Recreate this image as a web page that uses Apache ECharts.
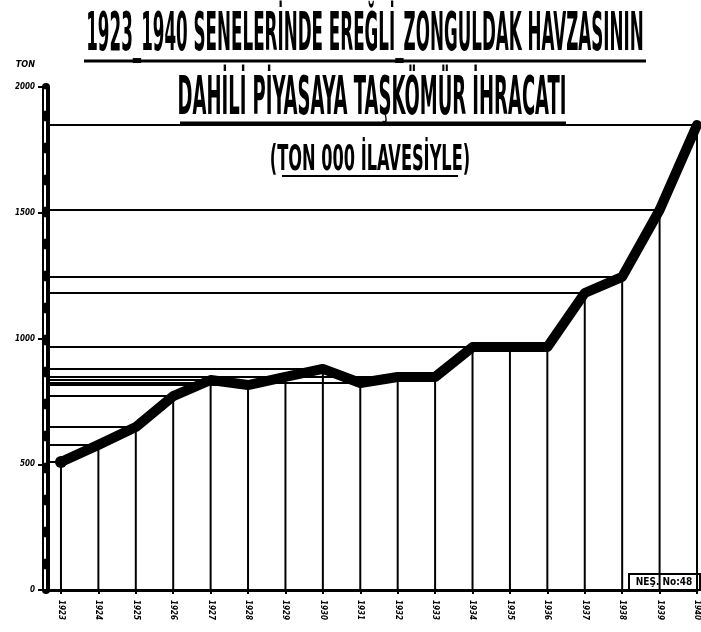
<!DOCTYPE html>
<html>
<head>
<meta charset="utf-8">
<script src="https://cdn.jsdelivr.net/npm/echarts@6/dist/echarts.min.js"></script>
<style>
html,body{margin:0;padding:0;background:#fff;}
#chart{width:701px;height:632px;}
</style>
</head>
<body>
<div id="chart"></div>
<script>
// ---- data (thousand tons) ----
const years = [1923,1924,1925,1926,1927,1928,1929,1930,1931,1932,1933,1934,1935,1936,1937,1938,1939,1940];
const values = [509,577,648,771,835,815,847,879,823,847,847,966,966,966,1181,1245,1511,1849];
const yTickValues = [0,500,1000,1500,2000];
const titleLines = [
  "1923_1940 SENELERİNDE EREĞLİ_ZONGULDAK HAVZASININ",
  "DAHİLİ PİYASAYA TAŞKÖMÜR İHRACATI",
  "(TON 000 İLAVESİYLE)"
];
const unitName = "TON";
const noteText = "NEŞ. No:48";

const FONT = '"Liberation Sans Narrow","DejaVu Sans Condensed","Liberation Sans",sans-serif';
const points = years.map((y,i)=>[y, values[i]]);

const chart = echarts.init(document.getElementById('chart'), null, {renderer:'canvas'});

function titleText(txt, cx, top, size, sx, sy) {
  return {
    type:'text', x:cx, y:top, scaleX:sx, scaleY:sy, z:10,
    style:{text:txt, x:0, y:0, textAlign:'center', textVerticalAlign:'top',
      font:'bold '+size+'px '+FONT, fill:'#000'}
  };
}

chart.setOption({
  backgroundColor:'#fff',
  animation:false,
  grid:{left:46, right:3, top:87, bottom:42},
  xAxis:{
    type:'value', min:1922.6, max:1940,
    axisLine:{show:true, onZero:false, lineStyle:{color:'#000', width:3}},
    axisTick:{show:true, customValues:years, length:4, lineStyle:{color:'#000', width:2}},
    axisLabel:{customValues:years, rotate:-90, margin:10, fontSize:8, fontWeight:'bold', fontStyle:'italic',
      fontFamily:FONT, color:'#000', formatter:v=>String(v)},
    splitLine:{show:false}
  },
  yAxis:[{
    type:'value', min:0, max:2000, interval:500, position:'left',
    name:unitName, nameLocation:'end', nameGap:18,
    nameTextStyle:{align:'right', padding:[0,11,0,0], fontSize:9, fontWeight:'bold', fontStyle:'italic', fontFamily:FONT, color:'#000'},
    axisLine:{show:true, lineStyle:{color:'#000', width:8}},
    axisTick:{show:true, length:8, lineStyle:{color:'#000', width:2}},
    axisLabel:{margin:11, fontSize:8, fontWeight:'bold', fontStyle:'italic', fontFamily:FONT, color:'#000',
      padding:[0,0,6,0], formatter:v=>String(v)},
    splitLine:{show:false}
  },{
    type:'value', min:0, max:2000, interval:500, position:'left', offset:1,
    axisLine:{show:true, lineStyle:{color:'#fff', width:2, type:[20,12]}},
    axisTick:{show:false}, axisLabel:{show:false}, splitLine:{show:false}
  }],
  series:[
    {
      type:'custom', name:'drop', data:points, z:2,
      renderItem:function(params, api){
        const p = api.coord([api.value(0), api.value(1)]);
        const b = api.coord([api.value(0), 0]);
        return {type:'line', shape:{x1:p[0], y1:p[1], x2:b[0], y2:b[1]},
          style:{stroke:'#000', lineWidth:2}};
      }
    },
    {
      type:'custom', name:'level', data:points, z:2,
      renderItem:function(params, api){
        const p = api.coord([api.value(0), api.value(1)]);
        const left = params.coordSys.x;
        return {type:'line', shape:{x1:left, y1:p[1], x2:p[0], y2:p[1]},
          style:{stroke:'#000', lineWidth:2}};
      }
    },
    {
      type:'line', name:'ihracat', data:points, z:5,
      symbol:'circle',
      symbolSize:function(v, params){ return params.dataIndex === 0 ? 12 : 0; },
      itemStyle:{color:'#000'},
      lineStyle:{color:'#000', width:10, cap:'round', join:'round'}
    }
  ],
  graphic:[
    titleText(titleLines[0], 365, 9, 20, 0.93, 2.7),
    {type:'line', z:10, shape:{x1:84, y1:61, x2:646, y2:61}, style:{stroke:'#000', lineWidth:3}},
    titleText(titleLines[1], 372, 73, 20, 1, 2.7),
    {type:'line', z:10, shape:{x1:180, y1:123, x2:566, y2:123}, style:{stroke:'#000', lineWidth:3}},
    titleText(titleLines[2], 370, 143, 18, 1, 2.0),
    {type:'line', z:10, shape:{x1:282, y1:176, x2:458, y2:176}, style:{stroke:'#000', lineWidth:2}},
    {type:'group', z:10, children:[
      {type:'rect', shape:{x:629, y:574, width:71, height:16}, style:{fill:'#fff', stroke:'#000', lineWidth:2}},
      {type:'text', style:{text:noteText, x:664, y:582, textAlign:'center', textVerticalAlign:'middle',
        font:'bold 10px '+FONT, fill:'#000'}}
    ]}
  ]
});
</script>
</body>
</html>
